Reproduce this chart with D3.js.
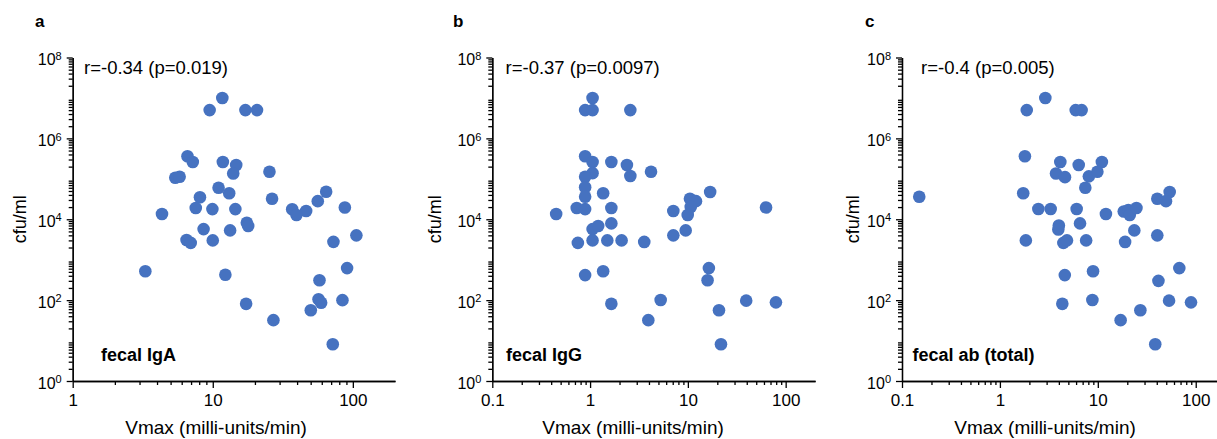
<!DOCTYPE html>
<html>
<head>
<meta charset="utf-8">
<script src="https://cdn.jsdelivr.net/npm/d3@7"></script>
<style>
  body { margin: 0; background: #fff; }
  svg { display: block; font-family: "Liberation Sans", Arial, sans-serif; }
</style>
</head>
<body>
<div id="chart"></div>
<script>
// values: Vmax (milli-units/min) and cfu/ml per subject
const vmaxA = [11.7, 9.5, 17.1, 20.7, 6.6, 7.2, 11.8, 14.7, 14.0, 25.4, 5.4, 5.8,
  11.0, 13.1, 8.1, 26.5, 64.5, 56.2, 87.7, 36.9, 46.4, 39.6, 7.56, 9.94, 14.5, 4.34,
  17.5, 17.9, 8.6, 13.3, 6.5, 6.96, 10, 72.7, 106,
  3.3, 12.3, 91, 57.8, 56.9, 59.4, 84.3, 17.3, 50.1, 27.1, 71.9];
const cfuA = [1e7, 5e6, 5e6, 5e6, 3.6e5, 2.6e5, 2.6e5, 2.2e5, 1.35e5, 1.5e5, 1.06e5, 1.12e5,
  6e4, 4.4e4, 3.5e4, 3.2e4, 4.8e4, 2.8e4, 1.96e4, 1.76e4, 1.6e4, 1.27e4, 1.9e4, 1.78e4, 1.78e4, 1.35e4,
  8.2e3, 6.8e3, 5.7e3, 5.3e3, 3.06e3, 2.6e3, 3e3, 2.76e3, 4e3,
  517, 425, 620, 309, 105, 86, 100, 81, 56, 32, 8.1];

const vmaxB = [1.06, 0.89, 1.06, 2.58, 0.89, 1.06, 1.65, 2.38, 2.58, 4.2, 1.06, 0.89,
  0.89, 0.89, 1.36, 16.9, 10.5, 12.1, 63, 7.1, 10.7, 9.96, 0.45, 0.73, 0.89, 1.65,
  1.65, 1.06, 1.21, 0.75, 1.06, 1.5, 2.1, 3.58, 7.1, 9.5,
  0.89, 1.36, 16.4, 15.9, 5.27, 39.5, 79.5, 1.65, 20.8, 3.94, 21.8];
const cfuB = [1e7, 5e6, 5e6, 5e6, 3.6e5, 2.6e5, 2.6e5, 2.2e5, 1.17e5, 1.5e5, 1.38e5, 1.12e5,
  6.2e4, 3.6e4, 4.4e4, 4.7e4, 3.2e4, 2.8e4, 1.96e4, 1.6e4, 2e4, 1.27e4, 1.35e4, 1.9e4, 1.78e4, 1.9e4,
  7.9e3, 5.7e3, 6.8e3, 2.6e3, 3e3, 3e3, 3e3, 2.75e3, 4e3, 5.3e3,
  416, 517, 620, 309, 101, 97, 88, 81, 56, 32, 8.1];

const vmaxC = [2.91, 1.88, 5.94, 6.84, 1.8, 4.14, 6.38, 11, 3.74, 4.62, 8.1, 9.9,
  7.45, 1.73, 0.15, 54.2, 40.5, 49.7, 2.47, 3.3, 6.08, 12.1, 18.4, 20.5, 21.2, 24.8,
  4.0, 3.95, 6.58, 23.6, 40.5, 1.84, 4.45, 4.84, 7.6, 19,
  4.6, 8.94, 68, 41.6, 8.8, 53.4, 89.5, 4.34, 27.2, 17.1, 38.6];
const cfuC = [1e7, 5e6, 5e6, 5e6, 3.6e5, 2.6e5, 2.2e5, 2.6e5, 1.35e5, 1.1e5, 1.15e5, 1.5e5,
  6e4, 4.4e4, 3.6e4, 4.7e4, 3.2e4, 2.8e4, 1.8e4, 1.8e4, 1.8e4, 1.35e4, 1.55e4, 1.7e4, 1.27e4, 1.9e4,
  7e3, 5.6e3, 7.9e3, 5.3e3, 4e3, 3e3, 2.6e3, 3e3, 3e3, 2.75e3,
  416, 517, 620, 300, 101, 97, 88, 81, 56, 32, 8.1];

const letters = ['a', 'b', 'c'];
const statTexts = ['r=-0.34 (p=0.019)', 'r=-0.37 (p=0.0097)', 'r=-0.4 (p=0.005)'];
const groupNames = ['fecal IgA', 'fecal IgG', 'fecal ab (total)'];
const xTickLabelsA = [1, 10, 100];
const xTickLabelsBC = [0.1, 1, 10, 100];
const yTicks = [1, 1e2, 1e4, 1e6, 1e8];

const W = 1217, H = 439;
const dotColor = '#4672c0';
const yTop = 57.5, yBottom = 381;

// layout of each panel (pixel positions only)
const panels = [
  { x0: 72.7, x1: 395, xmin: 1, xmax: 200, vmax: vmaxA, cfu: cfuA, xt: xTickLabelsA,
    letterX: 35, statX: 84, groupX: 101, yLabelX: 26, xLabelX: 216 },
  { x0: 492.3, x1: 815.1, xmin: 0.1, xmax: 200, vmax: vmaxB, cfu: cfuB, xt: xTickLabelsBC,
    letterX: 453, statX: 505.5, groupX: 506, yLabelX: 441, xLabelX: 633 },
  { x0: 902, x1: 1225.2, xmin: 0.1, xmax: 200, vmax: vmaxC, cfu: cfuC, xt: xTickLabelsBC,
    letterX: 865, statX: 921, groupX: 912.5, yLabelX: 859, xLabelX: 1045 }
];

const svg = d3.select('#chart').append('svg')
  .attr('width', W)
  .attr('height', H);

function minorTicks(lo, hi) {
  const out = [];
  for (let e = Math.floor(Math.log10(lo)); e <= Math.ceil(Math.log10(hi)); e++) {
    for (let m = 2; m <= 9; m++) {
      const v = m * Math.pow(10, e);
      if (v > lo && v < hi) out.push(v);
    }
  }
  return out;
}

function styleAxis(g) {
  g.selectAll('path, line').attr('stroke', '#000').attr('stroke-width', 1.3);
  g.selectAll('text').attr('fill', '#000').attr('font-size', 17)
    .attr('font-family', '"Liberation Sans", Arial, sans-serif');
}

panels.forEach((p, i) => {
  const x = d3.scaleLog().domain([p.xmin, p.xmax]).range([p.x0, p.x1]);
  const y = d3.scaleLog().domain([1, 1e8]).range([yBottom, yTop]);
  const g = svg.append('g');

  // x axis: minor ticks then major ticks with labels
  g.append('g')
    .attr('transform', `translate(0,${yBottom})`)
    .call(d3.axisBottom(x).tickValues(minorTicks(p.xmin, p.xmax)).tickSize(4).tickSizeOuter(0).tickFormat(''))
    .call(styleAxis);
  g.append('g')
    .attr('transform', `translate(0,${yBottom})`)
    .call(d3.axisBottom(x).tickValues(p.xt).tickSize(7).tickSizeOuter(0).tickPadding(6)
      .tickFormat(d => d < 1 ? d.toFixed(1) : d3.format('d')(d)))
    .call(styleAxis);

  // y axis
  g.append('g')
    .attr('transform', `translate(${p.x0},0)`)
    .call(d3.axisLeft(y).tickValues(minorTicks(1, 1e8)).tickSize(4).tickSizeOuter(0).tickFormat(''))
    .call(styleAxis);
  g.append('g')
    .attr('transform', `translate(${p.x0},0)`)
    .call(d3.axisLeft(y).tickValues(yTicks).tickSize(6).tickSizeOuter(0).tickPadding(5).tickFormat(() => '10'))
    .call(styleAxis)
    .call(ax => {
      ax.selectAll('.tick text')
        .attr('font-size', 16)
        .attr('dy', '0.45em')
        .append('tspan')
        .attr('dy', -5.5)
        .attr('font-size', 11)
        .text(d => Math.round(Math.log10(d)));
    });

  // dots
  g.append('g').selectAll('circle')
    .data(p.vmax.map((v, k) => [v, p.cfu[k]]).filter(d => d[0] >= p.xmin))
    .enter().append('circle')
    .attr('cx', d => x(d[0]))
    .attr('cy', d => y(d[1]))
    .attr('r', 6.3)
    .attr('fill', dotColor);

  // texts
  g.append('text')
    .attr('x', p.letterX).attr('y', 27)
    .attr('font-size', 17).attr('font-weight', 'bold')
    .text(letters[i]);
  g.append('text')
    .attr('x', p.statX).attr('y', 73.5)
    .attr('font-size', 18.5)
    .text(statTexts[i]);
  g.append('text')
    .attr('x', p.groupX).attr('y', 361)
    .attr('font-size', 18).attr('font-weight', 'bold')
    .text(groupNames[i]);
  g.append('text')
    .attr('transform', `translate(${p.yLabelX},${(yTop + yBottom) / 2}) rotate(-90)`)
    .attr('text-anchor', 'middle')
    .attr('font-size', 18)
    .text('cfu/ml');
  g.append('text')
    .attr('x', p.xLabelX).attr('y', 433.5)
    .attr('text-anchor', 'middle')
    .attr('font-size', 19)
    .text('Vmax (milli-units/min)');
});
</script>
</body>
</html>
